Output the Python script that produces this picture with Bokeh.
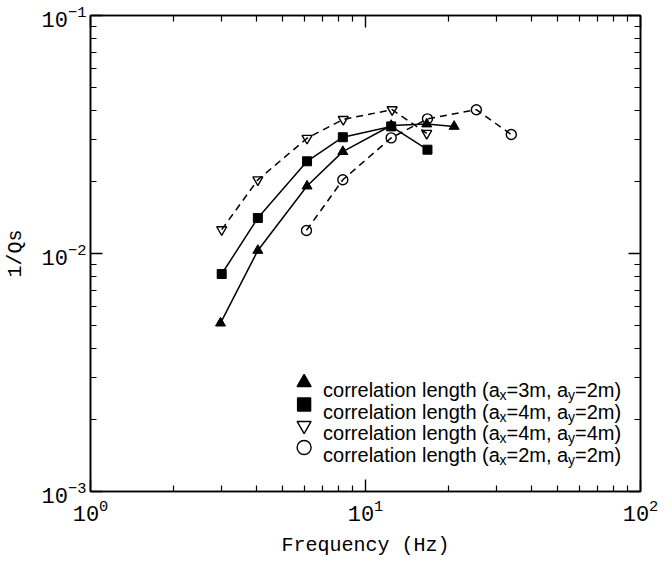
from bokeh.plotting import figure
from bokeh.models import (LogAxis, FixedTicker, Range1d, LinearScale, ColumnDataSource,
                          CustomJSTickFormatter, LogTickFormatter)
from bokeh.core.properties import value
from bokeh.embed import file_html
from bokeh.resources import INLINE

# ---------------- data ----------------
freq_tri = [2.97, 4.06, 6.13, 8.27, 12.4, 16.7, 21.0]
q_tri = [0.0051, 0.0103, 0.0192, 0.0268, 0.0345, 0.0350, 0.0342]

freq_sq = [3.0, 4.06, 6.13, 8.27, 12.4, 16.8]
q_sq = [0.0082, 0.0141, 0.0244, 0.0308, 0.0342, 0.0273]

freq_dtri = [3.0, 4.06, 6.13, 8.3, 12.5, 16.7]
q_dtri = [0.0126, 0.0204, 0.0305, 0.0366, 0.0402, 0.0320]

freq_circ = [6.1, 8.27, 12.4, 16.8, 25.3, 33.9]
q_circ = [0.0125, 0.0204, 0.0306, 0.0368, 0.0402, 0.0316]

x_limits = (1, 100)
y_limits = (1e-3, 1e-1)
x_major = [1, 10, 100]
y_major = [1e-3, 1e-2, 1e-1]
x_title = "Frequency (Hz)"
y_title = "1/Qs"
legend_ax = ["3m", "4m", "4m", "2m"]
legend_ay = ["2m", "2m", "4m", "2m"]


def minors(majors):
    return [m * d for d in majors[:-1] for m in range(2, 10)]


# ---------------- figure ----------------
W, H = 672, 563
ML, MR, MT, MB = 89, 32, 15, 72
FRAME_W, FRAME_H = W - ML - MR, H - MT - MB
p = figure(width=W, height=H, x_axis_type="log", y_axis_type="log",
           x_range=Range1d(*x_limits), y_range=Range1d(*y_limits),
           output_backend="svg", toolbar_location=None,
           min_border_left=ML, min_border_right=MR,
           min_border_top=MT, min_border_bottom=MB)
p.grid.visible = False
p.outline_line_color = "black"
p.outline_line_width = 1.5
p.background_fill_color = "white"
p.border_fill_color = "white"

x_ticker = FixedTicker(ticks=x_major, minor_ticks=minors(x_major))
y_ticker = FixedTicker(ticks=y_major, minor_ticks=minors(y_major))


def style_axis(ax):
    ax.major_tick_in = 12
    ax.major_tick_out = 0
    ax.minor_tick_in = 6
    ax.minor_tick_out = 0
    ax.axis_line_color = "black"
    ax.axis_line_width = 1.6
    ax.major_tick_line_color = "black"
    ax.minor_tick_line_color = "black"
    ax.major_tick_line_width = 1.4
    ax.minor_tick_line_width = 1.2
    ax.major_label_text_font = "Liberation Mono"
    ax.major_label_text_font_size = "22px"
    ax.major_label_text_color = "black"
    ax.axis_label_text_font = "Liberation Mono"
    ax.axis_label_text_font_size = "20px"
    ax.axis_label_text_font_style = "normal"
    ax.axis_label_text_color = "black"


xa = p.xaxis[0]
ya = p.yaxis[0]
xa.ticker = x_ticker
ya.ticker = y_ticker
xa.formatter = LogTickFormatter()
ya.formatter = LogTickFormatter()
style_axis(xa)
style_axis(ya)
xa.axis_label = x_title
ya.axis_label = y_title
xa.major_label_standoff = 7
xa.axis_label_standoff = 10
ya.major_label_standoff = 4
ya.axis_label_standoff = 12

for loc, tk in (("above", x_ticker), ("right", y_ticker)):
    ax = LogAxis(ticker=tk, formatter=CustomJSTickFormatter(code="return ''"))
    style_axis(ax)
    ax.major_label_text_font_size = "1px"
    ax.major_label_standoff = 0
    p.add_layout(ax, loc)

# ---------------- data series ----------------
p.line(freq_tri, q_tri, line_color="black", line_width=1.5)
p.scatter(freq_tri, q_tri, marker="triangle", size=10, color="black")

p.line(freq_sq, q_sq, line_color="black", line_width=1.5)
p.scatter(freq_sq, q_sq, marker="square", size=9, color="black")

p.line(freq_dtri, q_dtri, line_color="black", line_width=1.5, line_dash="7 5")
p.scatter(freq_dtri, q_dtri, marker="inverted_triangle", size=10,
          line_color="black", fill_color=None, line_width=1.4)

p.line(freq_circ, q_circ, line_color="black", line_width=1.5, line_dash="7 5")
p.scatter(freq_circ, q_circ, marker="circle", size=10,
          line_color="black", fill_color=None, line_width=1.4)

# ---------------- legend (drawn in a pixel-space range) ----------------
p.extra_x_ranges = {"px": Range1d(0, FRAME_W)}
p.extra_y_ranges = {"px": Range1d(0, FRAME_H)}
p.extra_x_scales = {"px": LinearScale()}
p.extra_y_scales = {"px": LinearScale()}

leg_marker_x = 214
leg_rows = [109, 87, 66, 44]
leg_markers = ["triangle", "square", "inverted_triangle", "circle"]
leg_filled = [True, True, False, False]
leg_sizes = [14, 13, 14, 14]
for m, f, s, yy in zip(leg_markers, leg_filled, leg_sizes, leg_rows):
    p.scatter([leg_marker_x], [yy], marker=m, size=s, line_color="black",
              fill_color="black" if f else None, line_width=1.4,
              x_range_name="px", y_range_name="px")

# Arial / Liberation Sans advance widths (per 1000 em)
AW = {" ": 278, "(": 333, ")": 333, ",": 278, "=": 584, "2": 556, "3": 556,
      "4": 556, "a": 556, "c": 500, "e": 556, "g": 556, "h": 556, "i": 222,
      "l": 222, "m": 833, "n": 556, "o": 556, "r": 333, "t": 278, "x": 500,
      "y": 500}
MAIN, SUB = 20, 14


def tw(s, size):
    return sum(AW.get(c, 556) for c in s) * size / 1000.0


tx, ty, tt, ts = [], [], [], []
text_x0 = 233
for ax_v, ay_v, yy in zip(legend_ax, legend_ay, leg_rows):
    base = yy - 7
    pieces = [("correlation length (a", MAIN, 0), ("x", SUB, -5),
              ("=" + ax_v + ", a", MAIN, 0), ("y", SUB, -5),
              ("=" + ay_v + ")", MAIN, 0)]
    cx = text_x0
    for s, size, dy in pieces:
        tx.append(cx)
        ty.append(base + dy)
        tt.append(s)
        ts.append("%gpx" % size)
        cx += tw(s, size)

src = ColumnDataSource(dict(x=tx, y=ty, text=tt, fs=ts))
p.text(x="x", y="y", text="text", source=src, text_font_size="fs",
       text_font=value("Liberation Sans"), text_color="black",
       text_baseline="alphabetic", text_align="left",
       x_range_name="px", y_range_name="px")

open("out.html", "w").write(file_html(p, INLINE))
